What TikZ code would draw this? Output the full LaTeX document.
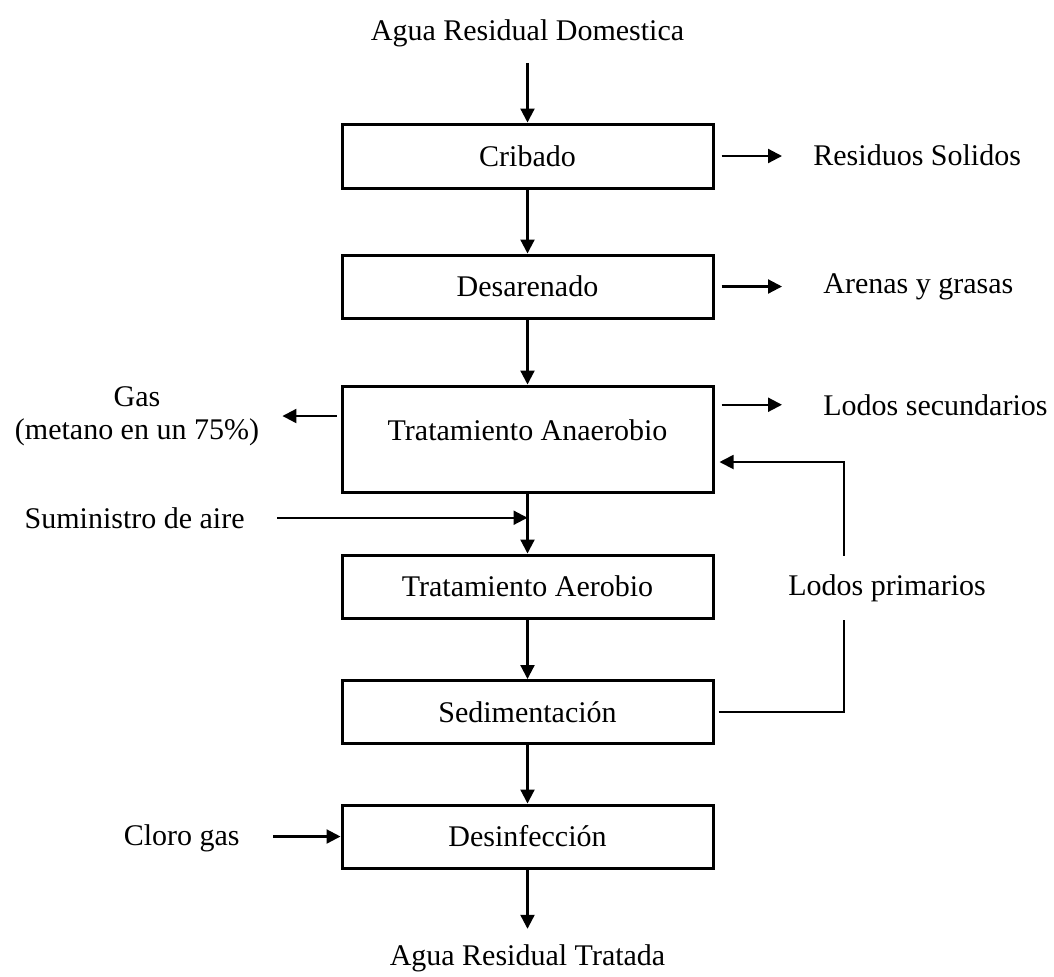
\documentclass[tikz,border=0pt]{standalone}
\usepackage{fontspec}
\setmainfont{Liberation Serif}
\usetikzlibrary{arrows.meta, positioning, calc}
\tikzset{
  proceso/.style={draw, line width=1.5pt, minimum width=185.5pt, minimum height=31.5pt,
                  inner sep=0pt, font=\fontsize{15}{16.5}\selectfont},
  etiqueta/.style={inner sep=0pt, font=\fontsize{15}{16.5}\selectfont},
  flecha/.style={line width=1.1pt, -{Triangle[length=7pt,width=7pt]}},
  linea/.style={line width=0.9pt},
}

\begin{document}
\begin{tikzpicture}[x=0.5pt, y=-0.5pt]
\useasboundingbox (0,0) rectangle (1054,976);
% etapas del tratamiento
\node[proceso, minimum height=32pt] (cribado) at (527.5,156) {Cribado};
\node[proceso] (desarenado) at (527.5,286.5) {Desarenado};
\node[proceso, text height=27pt, text depth=26pt] (anaerobio) at (527.5,439) {Tratamiento Anaerobio};
\node[proceso] (aerobio) at (527.5,586.5) {Tratamiento Aerobio};
\node[proceso] (sediment) at (527.5,712) {Sedimentación};
\node[proceso] (desinf) at (527.5,836.5) {Desinfección};

% entradas y salidas
\node[etiqueta, anchor=base] (entrada) at (527.5,40) {Agua Residual Domestica};
\node[etiqueta, anchor=base] (salida) at (527.5,965) {Agua Residual Tratada};
\node[etiqueta, anchor=base west] (residuos) at (813,165) {Residuos Solidos};
\node[etiqueta, anchor=base west] (arenas) at (823,293) {Arenas y grasas};
\node[etiqueta, anchor=base west] (lodossec) at (823,415) {Lodos secundarios};
\node[etiqueta, align=center] (gas) at (137,416) {Gas\\(metano en un 75\%)};
\node[etiqueta, anchor=base east] (aire) at (245,528) {Suministro de aire};
\node[etiqueta, anchor=base east] (cloro) at (240,845) {Cloro gas};
\node[etiqueta, minimum height=32pt] (lodosprim) at (887,588) {Lodos primarios};
\coordinate (retorno) at (844,462);

% linea principal
\draw[flecha, shorten <=8pt] (entrada) -- (cribado);
\draw[flecha] (cribado) -- (desarenado);
\draw[flecha] (desarenado) -- (anaerobio);
\draw[flecha] (anaerobio) -- (aerobio);
\draw[flecha] (aerobio) -- (sediment);
\draw[flecha] (sediment) -- (desinf);
\draw[flecha, shorten >=7.5pt] (desinf) -- (salida);

% corrientes laterales
\draw[flecha, shorten <=3.5pt, shorten >=15.5pt] (cribado.east) -- (cribado.east -| residuos.west);
\draw[flecha, shorten <=3.5pt, shorten >=20.5pt] (desarenado.east) -- (desarenado.east -| arenas.west);
\draw[flecha, shorten <=3.5pt, shorten >=20.5pt] (anaerobio.east |- lodossec.west) -- (lodossec.west);
\draw[flecha, shorten <=2pt, shorten >=11.5pt] (anaerobio.west |- gas.east) -- (gas.east);
\draw[flecha, shorten <=16pt] (aire.east) -- (aire.east -| anaerobio.south);
\draw[flecha, shorten <=16.5pt] (desinf.west -| cloro.east) -- (desinf.west);

% recirculacion de lodos
\draw[linea, shorten <=2pt] (sediment.east) -- (sediment.east -| retorno) -- (retorno |- lodosprim.south);
\draw[flecha, line width=0.9pt, shorten >=2.5pt] (retorno |- lodosprim.north) -- (retorno) -- (retorno -| anaerobio.east);
\end{tikzpicture}
\end{document}
